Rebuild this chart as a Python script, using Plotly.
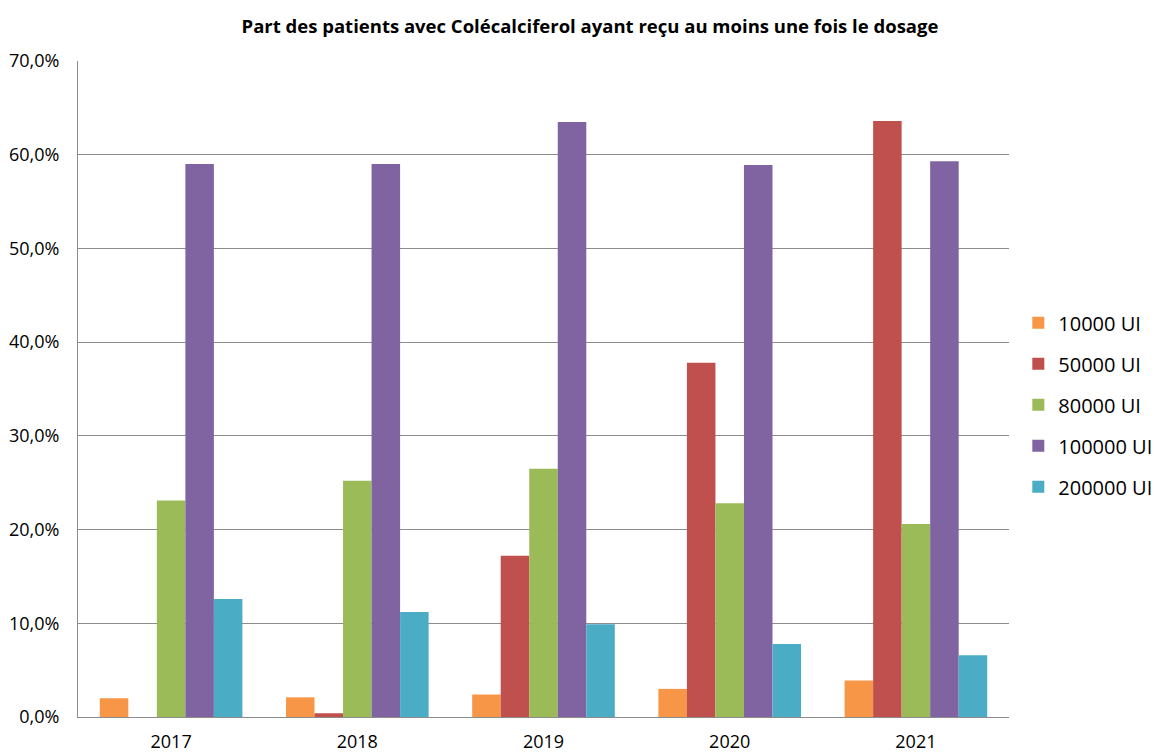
import plotly.graph_objects as go

# Years on the x axis
years = ["2017", "2018", "2019", "2020", "2021"]

# Share of patients (fraction) per dosage
dose_10000 = [0.020, 0.021, 0.024, 0.030, 0.039]
dose_50000 = [0.000, 0.004, 0.172, 0.378, 0.636]
dose_80000 = [0.231, 0.252, 0.265, 0.228, 0.206]
dose_100000 = [0.590, 0.590, 0.635, 0.589, 0.593]
dose_200000 = [0.126, 0.112, 0.099, 0.078, 0.066]

series_names = ["10000 UI", "50000 UI", "80000 UI", "100000 UI", "200000 UI"]
series_values = [dose_10000, dose_50000, dose_80000, dose_100000, dose_200000]
colors = ["#F79646", "#C0504D", "#9BBB59", "#8064A2", "#4BACC6"]

font_family = "Open Sans, Liberation Sans, sans-serif"

fig = go.Figure()
for name, vals, col in zip(series_names, series_values, colors):
    fig.add_trace(go.Bar(
        x=years, y=vals, name=name, marker_color=col,
        marker_line_width=0, legendgroup=name,
    ))

fig.update_layout(
    width=1166, height=753,
    paper_bgcolor="white", plot_bgcolor="white",
    margin=dict(l=78, r=157, t=61, b=36, autoexpand=False),
    barmode="group", bargap=0.234, bargroupgap=0,
    separators=", ",
    font=dict(family=font_family, color="#000000"),
    title=dict(
        text="<b>Part des patients avec Colécalciferol ayant reçu au moins une fois le dosage</b>",
        x=0.506, xanchor="center", y=0.965, yanchor="middle",
        font=dict(size=18.5, family=font_family),
    ),
    legend=dict(
        x=1.010, xanchor="left", y=0.476, yanchor="middle",
        font=dict(size=20), tracegroupgap=12,
        itemwidth=30,
    ),
    xaxis=dict(
        showline=True, linecolor="#8c8c8c", linewidth=1,
        tickfont=dict(size=18), ticks="", showgrid=False,
        ticklabelstandoff=8, automargin=False,
    ),
    yaxis=dict(
        range=[0, 0.70], dtick=0.10, tickformat=".1%",
        showgrid=True, gridcolor="#8c8c8c", gridwidth=1,
        showline=True, linecolor="#8c8c8c", linewidth=1,
        zeroline=False, tickfont=dict(size=18), ticks="",
        ticklabelstandoff=14, automargin=False,
    ),
)

fig.write_html("out.html")
